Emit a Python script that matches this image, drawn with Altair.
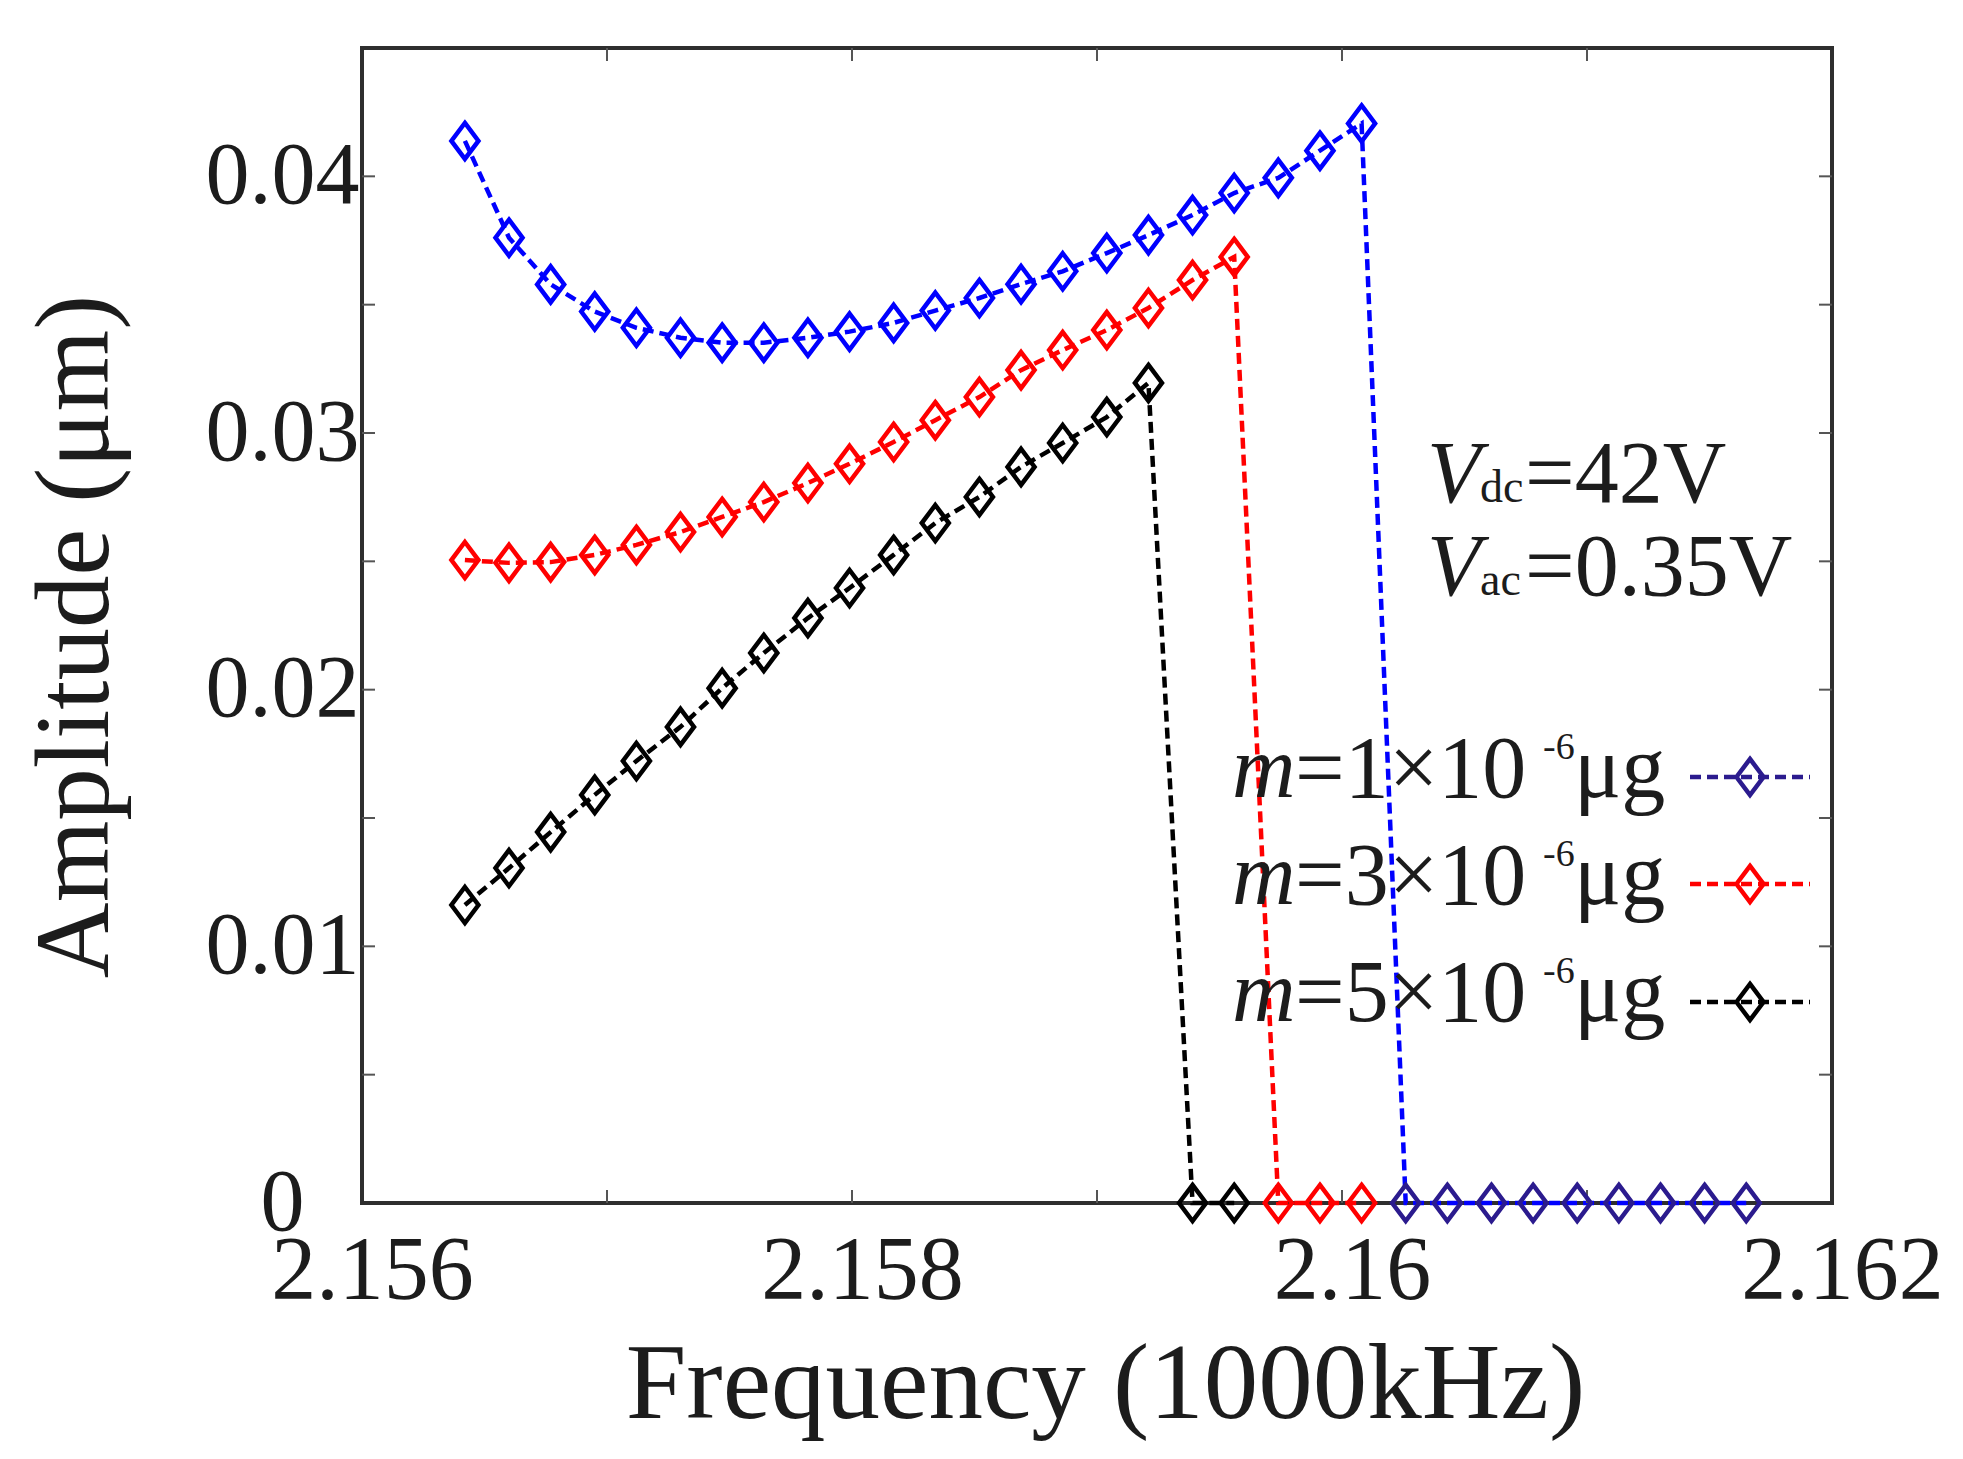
import pandas as pd
import altair as alt

# ── palette / fonts ──────────────────────────────────────────────────────────

FONT = "Liberation Serif"
TEXT_C = "#1c1c1c"
FRAME_C = "#2e2e2e"
TICK_C = "#555555"
NAVY = "#2B1B8E"

# ── data ─────────────────────────────────────────────────────────────────────

freq = [2.15642, 2.15660, 2.15677, 2.15695, 2.15712, 2.15730, 2.15747, 2.15764,
        2.15782, 2.15799, 2.15817, 2.15834, 2.15852, 2.15869, 2.15886, 2.15904,
        2.15921, 2.15939, 2.15956, 2.15974, 2.15991, 2.16008, 2.16026, 2.16043,
        2.16061, 2.16078, 2.16096, 2.16113, 2.16130, 2.16148, 2.16165]

amp_m1 = [0.04138, 0.03761, 0.03579, 0.03473, 0.03410, 0.03371, 0.03352, 0.03352,
          0.03371, 0.03395, 0.03429, 0.03477, 0.03526, 0.03580, 0.03630, 0.03701,
          0.03771, 0.03849, 0.03935, 0.03994, 0.04100, 0.04206,
          0, 0, 0, 0, 0, 0, 0, 0, 0]
amp_m3 = [0.02505, 0.02494, 0.02497, 0.02525, 0.02564, 0.02614, 0.02673, 0.02731,
          0.02805, 0.02880, 0.02965, 0.03050, 0.03140, 0.03245, 0.03323, 0.03401,
          0.03487, 0.03596, 0.03686, 0, 0, 0]
amp_m5 = [0.01161, 0.01305, 0.01445, 0.01590, 0.01722, 0.01855, 0.02006, 0.02143,
          0.02279, 0.02396, 0.02525, 0.02649, 0.02751, 0.02868, 0.02961, 0.03062,
          0.03195, 0, 0]

series_names = ["m1", "m3", "m5"]
mass_text = ["=1\u00d710", "=3\u00d710", "=5\u00d710"]
line_colors = ["#0000FF", "#FF0000", "#000000"]
legend_colors = [NAVY, "#FF0000", "#000000"]

x_major = [2.156, 2.158, 2.160, 2.162]
x_minor = [2.157, 2.158, 2.159, 2.160, 2.161]
y_major = [0, 0.01, 0.02, 0.03, 0.04]
y_minor = [0.005, 0.01, 0.015, 0.02, 0.025, 0.03, 0.035, 0.04]

# ── layout (plot area in px) ────────────────────────────────────────────────

W, H = 1470, 1155
TICK_LEN = 13
DIAMOND = "M0,-1L0.75,0L0,1L-0.75,0Z"
MARK_SIZE = 1300
DASH = [11, 6]

rows = []
for name, amps, lc in zip(series_names, [amp_m1, amp_m3, amp_m5], line_colors):
    for f, a in zip(freq, amps):
        # the m=1 markers on the zero plateau are drawn in navy
        mc = NAVY if (name == "m1" and a == 0) else lc
        rows.append({"freq": f, "amp": a, "series": name, "lc": lc, "mc": mc})
df = pd.DataFrame(rows)

xs = alt.Scale(domain=[2.156, 2.162], nice=False, zero=False)
ys = alt.Scale(domain=[0, 0.045], nice=False, zero=True)

# every layer on the data scales gets the same axis object so they merge
x_axis = alt.Axis(
    values=x_major, format=".3~f", ticks=False, domain=False, grid=False,
    labelFont=FONT, labelFontSize=90, labelColor=TEXT_C, labelPadding=95,
    labelBaseline="alphabetic", labelFlush=False, labelOverlap=False,
    labelLimit=0, labelOffset=10,
    title="Frequency (1000kHz)", titleFont=FONT, titleFontSize=109,
    titleFontWeight="normal", titleColor=TEXT_C, titleX=743, titleY=214,
    titleBaseline="alphabetic", titleAlign="center", titleLimit=0,
)
y_axis = alt.Axis(
    values=y_major, format=".2~f", ticks=False, domain=False, grid=False,
    labelFont=FONT, labelFontSize=88, labelColor=TEXT_C, labelPadding=80,
    labelAlign="center", labelBaseline="middle", labelFlush=False,
    labelOverlap=False, labelLimit=0,
    title="Amplitude (\u03bcm)", titleFont=FONT, titleFontSize=105,
    titleFontWeight="normal", titleColor=TEXT_C, titleAngle=270,
    titleX=-255, titleY=588, titleBaseline="alphabetic", titleAlign="center",
    titleLimit=0,
)

# ── inward ticks on all four sides ───────────────────────────────────────────

xt = pd.DataFrame({"t": x_minor})
yt = pd.DataFrame({"t": y_minor})
tick_style = dict(color=TICK_C, strokeWidth=2)
ticks_bottom = alt.Chart(xt).mark_rule(**tick_style).encode(
    x=alt.X("t:Q", scale=xs, axis=x_axis), y=alt.value(H), y2=alt.value(H - TICK_LEN))
ticks_top = alt.Chart(xt).mark_rule(**tick_style).encode(
    x=alt.X("t:Q", scale=xs, axis=x_axis), y=alt.value(0), y2=alt.value(TICK_LEN))
ticks_left = alt.Chart(yt).mark_rule(**tick_style).encode(
    y=alt.Y("t:Q", scale=ys, axis=y_axis), x=alt.value(0), x2=alt.value(TICK_LEN))
ticks_right = alt.Chart(yt).mark_rule(**tick_style).encode(
    y=alt.Y("t:Q", scale=ys, axis=y_axis), x=alt.value(W - TICK_LEN), x2=alt.value(W))

# ── series ───────────────────────────────────────────────────────────────────

lines = alt.Chart(df).mark_line(strokeDash=DASH, strokeWidth=4.5).encode(
    x=alt.X("freq:Q", scale=xs, axis=x_axis),
    y=alt.Y("amp:Q", scale=ys, axis=y_axis),
    color=alt.Color("lc:N", scale=None),
    detail="series:N",
)
points = alt.Chart(df).mark_point(
    shape=DIAMOND, size=MARK_SIZE, filled=False, strokeWidth=4.5, opacity=1
).encode(
    x=alt.X("freq:Q", scale=xs, axis=x_axis),
    y=alt.Y("amp:Q", scale=ys, axis=y_axis),
    color=alt.Color("mc:N", scale=None),
)

# ── annotation text (V_dc, V_ac) and hand-built legend ──────────────────────

ROW_BASE = [749, 856, 973]       # legend text baselines
ROW_LINE = [729, 836, 954]       # legend sample line heights

italic_rows = [
    {"t": "V", "tx": 1065, "ty": 454, "fs": 88},
    {"t": "V", "tx": 1065, "ty": 547, "fs": 88},
]
plain_rows = [
    {"t": "dc", "tx": 1118, "ty": 454, "fs": 46},
    {"t": "=42V", "tx": 1163, "ty": 454, "fs": 88},
    {"t": "ac", "tx": 1118, "ty": 547, "fs": 46},
    {"t": "=0.35V", "tx": 1163, "ty": 547, "fs": 88},
]
leg_rows = []
for i, (mt, c) in enumerate(zip(mass_text, legend_colors)):
    italic_rows.append({"t": "m", "tx": 870, "ty": ROW_BASE[i], "fs": 88})
    plain_rows.append({"t": mt, "tx": 933, "ty": ROW_BASE[i], "fs": 88})
    plain_rows.append({"t": "-6", "tx": 1181, "ty": ROW_BASE[i] - 38, "fs": 38})
    plain_rows.append({"t": "\u03bcg", "tx": 1212, "ty": ROW_BASE[i], "fs": 88})
    leg_rows.append({"x1": 1328, "x2": 1448, "xm": 1388, "ly": ROW_LINE[i], "c": c})
leg_df = pd.DataFrame(leg_rows)


def text_layer(rows_, style):
    return alt.Chart(pd.DataFrame(rows_)).mark_text(
        align="left", baseline="alphabetic", font=FONT, color=TEXT_C, fontStyle=style
    ).encode(
        x=alt.X("tx:Q", scale=None),
        y=alt.Y("ty:Q", scale=None),
        size=alt.Size("fs:Q", scale=None, legend=None),
        text="t:N",
    )


italic_text = text_layer(italic_rows, "italic")
plain_text = text_layer(plain_rows, "normal")

leg_lines = alt.Chart(leg_df).mark_rule(strokeDash=DASH, strokeWidth=4.5).encode(
    x=alt.X("x1:Q", scale=None), x2="x2:Q",
    y=alt.Y("ly:Q", scale=None),
    color=alt.Color("c:N", scale=None),
)
leg_marks = alt.Chart(leg_df).mark_point(
    shape=DIAMOND, size=MARK_SIZE, filled=False, strokeWidth=4.5, opacity=1
).encode(
    x=alt.X("xm:Q", scale=None),
    y=alt.Y("ly:Q", scale=None),
    color=alt.Color("c:N", scale=None),
)

chart = (
    alt.layer(
        lines, ticks_bottom, ticks_top, ticks_left, ticks_right, points,
        italic_text, plain_text, leg_lines, leg_marks,
    )
    .properties(
        width=W, height=H,
        autosize=alt.AutoSizeParams(type="none"),
        padding={"left": 354, "top": 40, "right": 123, "bottom": 248},
        background="white",
    )
    .configure_view(stroke=FRAME_C, strokeWidth=4)
)

chart.save("out.html", embed_options={"renderer": "svg", "actions": False})
